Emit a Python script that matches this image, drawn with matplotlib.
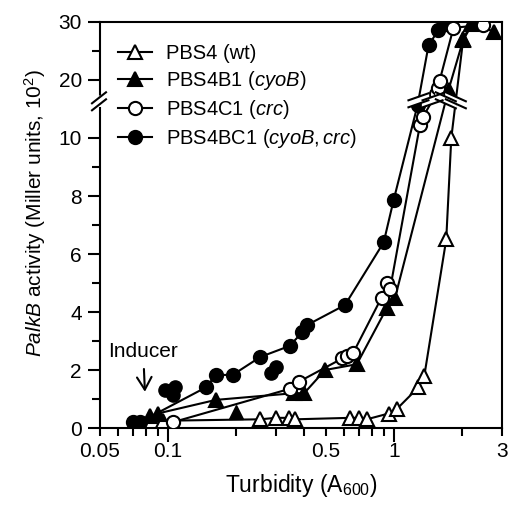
import numpy as np
import matplotlib
matplotlib.use('Agg')
import matplotlib.pyplot as plt
from matplotlib.transforms import IdentityTransform

plt.rcParams['font.family'] = ['Liberation Sans', 'DejaVu Sans']
plt.rcParams['mathtext.fontset'] = 'custom'
plt.rcParams['mathtext.rm'] = 'Liberation Sans'
plt.rcParams['mathtext.it'] = 'Liberation Sans:italic'

# PBS4 (wt) - open triangles
wt_x = [0.095, 0.256, 0.299, 0.344, 0.366, 0.637, 0.698, 0.757, 0.946, 1.026, 1.28, 1.36, 1.70, 1.79, 2.02, 2.19]
wt_y = [0.25, 0.3, 0.35, 0.35, 0.3, 0.35, 0.35, 0.3, 0.5, 0.65, 1.4, 1.8, 6.5, 10.0, 27.0, 29.7]
# PBS4B1 (cyoB) - filled triangles
cyo_x = [0.083, 0.090, 0.163, 0.36, 0.40, 0.495, 0.684, 0.93, 1.01, 1.74, 2.02, 2.23, 2.77]
cyo_y = [0.4, 0.5, 0.97, 1.2, 1.2, 2.0, 2.2, 4.15, 4.5, 18.3, 26.9, 29.8, 28.3]
# PBS4C1 (crc) - open circles
crc_x = [0.105, 0.345, 0.38, 0.59, 0.62, 0.66, 0.88, 0.93, 0.96, 1.30, 1.34, 1.53, 1.56, 1.59, 1.83, 2.47]
crc_y = [0.2, 1.35, 1.6, 2.4, 2.5, 2.6, 4.5, 5.0, 4.8, 12.2, 13.6, 17.5, 18.7, 19.9, 29.0, 29.5]
# PBS4BC1 (cyoB,crc) - filled circles
bc_x = [0.070, 0.075, 0.147, 0.163, 0.193, 0.256, 0.345, 0.392, 0.412, 0.606, 0.899, 0.995, 1.27, 1.42, 1.57, 1.70]
bc_y = [0.2, 0.2, 1.4, 1.83, 1.83, 2.45, 2.83, 3.3, 3.55, 4.24, 6.4, 7.86, 15.7, 26.0, 28.6, 29.7]
# points not joined by the lines
bc_extra_x = [0.097, 0.107, 0.105, 0.284, 0.299]
bc_extra_y = [1.3, 1.4, 1.15, 1.9, 2.1]
cyo_extra_x = [0.199]
cyo_extra_y = [0.55]

x_ticks = [0.05, 0.1, 0.5, 1, 3]
x_minor = [0.06, 0.07, 0.08, 0.09, 0.2, 0.3, 0.4, 0.6, 0.7, 0.8, 0.9, 2]
y_ticks = [0, 2, 4, 6, 8, 10, 20, 30]
y_minor = [1, 3, 5, 7, 9, 25]
BREAK_Y = 16.5


def fwd(y):
    y = np.asarray(y, dtype=float)
    return np.where(y <= 10, y, 10 + (y - 10) / 5.0)


def inv(p):
    p = np.asarray(p, dtype=float)
    return np.where(p <= 10, p, 10 + (p - 10) * 5.0)


fig = plt.figure(figsize=(5.11, 5.05), dpi=100)
ax = fig.add_axes([100 / 511, 77 / 505, 402 / 511, 406 / 505])
ax.set_xscale('log')
ax.set_yscale('function', functions=(fwd, inv))
ax.set_xlim(0.05, 3)
ax.set_ylim(0, 30)

lw = 1.5
ms = 9.5
kw = dict(color='black', lw=lw, markeredgewidth=1.5, markeredgecolor='black')
ax.plot(wt_x, wt_y, marker='^', ms=ms + 1, markerfacecolor='white', label='PBS4 (wt)', zorder=3, **kw)
ax.plot(cyo_x, cyo_y, marker='^', ms=ms + 1, markerfacecolor='black', label=r'PBS4B1 ($\it{cyoB}$)', zorder=3, **kw)
ax.plot(cyo_extra_x, cyo_extra_y, ls='none', marker='^', ms=ms + 1, markerfacecolor='black', markeredgecolor='black', zorder=3)
ax.plot(bc_x, bc_y, marker='o', ms=ms, markerfacecolor='black', label=r'PBS4BC1 ($\it{cyoB,crc}$)', zorder=4, **kw)
ax.plot(bc_extra_x, bc_extra_y, ls='none', marker='o', ms=ms, markerfacecolor='black', markeredgecolor='black', zorder=4)
ax.plot(crc_x, crc_y, marker='o', ms=ms, markerfacecolor='white', label=r'PBS4C1 ($\it{crc}$)', zorder=5, **kw)

ax.set_xticks(x_ticks)
ax.set_xticklabels(['0.05', '0.1', '0.5', '1', '3'])
ax.set_xticks(x_minor, minor=True)
ax.set_xticklabels([], minor=True)
ax.set_yticks(y_ticks)
ax.set_yticklabels([str(v) for v in y_ticks])
ax.set_yticks(y_minor, minor=True)
ax.tick_params(axis='both', which='major', direction='out', length=6, width=1.5, labelsize=15, pad=4)
ax.tick_params(axis='both', which='minor', direction='out', length=6, width=1.5)
ax.tick_params(axis='y', which='major', length=9)
for t in ax.xaxis.get_major_ticks():
    if t.get_loc() in (0.1, 1):
        t.tick1line.set_markersize(10)
for s in ax.spines.values():
    s.set_linewidth(1.5)

ax.set_xlabel(r'Turbidity (A$_{600}$)', fontsize=16.5, labelpad=8)
ax.set_ylabel(r'$\it{PalkB}$ activity (Miller units, 10$^2$)', fontsize=15)
ax.yaxis.set_label_coords(-0.13, 0.53)

h, l = ax.get_legend_handles_labels()
order = [0, 1, 3, 2]
ax.legend([h[i] for i in order], [l[i] for i in order], loc='upper left', bbox_to_anchor=(0.045, 0.945),
          frameon=False, fontsize=14.5, borderpad=0, borderaxespad=0, handlelength=1.7,
          handletextpad=0.7, labelspacing=0.3)

ax.annotate('Inducer', xy=(0.079, 1.25), xytext=(0.0776, 2.65), ha='center', va='center', fontsize=15,
            arrowprops=dict(arrowstyle='->,head_width=0.35,head_length=0.6', lw=1.5, color='black',
                            shrinkA=4, shrinkB=0))

# break marks
fig.canvas.draw()
pix = IdentityTransform()
bp = ax.transData.transform((1, BREAK_Y))[1]
sx = ax.transAxes.transform((0, 0))[0]
ax.fill([sx - 7, sx + 1, sx + 7, sx - 1], [bp - 6, bp - 6, bp + 4, bp + 4], color='white', transform=pix, clip_on=False, zorder=6)
for d in (-4, 3):
    ax.plot([sx - 8, sx + 6], [bp + d - 6, bp + d + 5], color='black', lw=1.5, transform=pix, clip_on=False, zorder=7)

bp_pos = float(fwd(BREAK_Y))
for xs, ys, slope in ((bc_x, bc_y, 0.35), (crc_x, crc_y, 0.35), (cyo_x, cyo_y, -0.45), (wt_x, wt_y, -0.45)):
    p = fwd(ys)
    for i in range(len(xs) - 1):
        if p[i] < bp_pos <= p[i + 1]:
            t = (bp_pos - p[i]) / (p[i + 1] - p[i])
            lx = np.log10(xs[i]) + t * (np.log10(xs[i + 1]) - np.log10(xs[i]))
            cx, cy = ax.transData.transform((10 ** lx, BREAK_Y))
            half = 10
            dy = slope * half
            ax.fill([cx - half, cx + half, cx + half, cx - half],
                    [cy - dy - 3, cy + dy - 3, cy + dy + 3, cy - dy + 3],
                    color='white', transform=pix, zorder=8)
            for off in (-3.5, 3.5):
                ax.plot([cx - half, cx + half], [cy - dy + off, cy + dy + off], color='black', lw=1.5,
                        transform=pix, zorder=9)
            break

fig.savefig('out.png', dpi=100)
